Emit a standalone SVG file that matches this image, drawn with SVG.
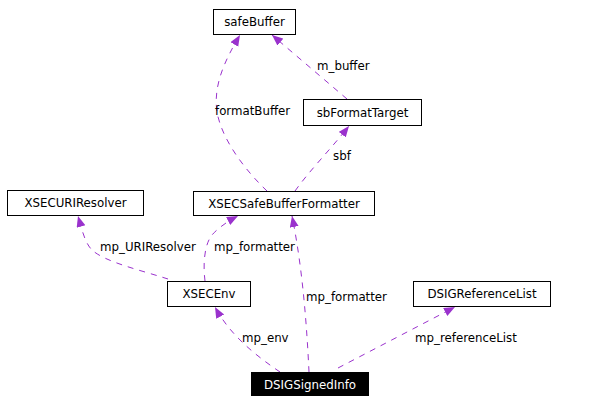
<svg xmlns="http://www.w3.org/2000/svg" width="592" height="404" viewBox="0 0 592 404">
<defs>
<marker id="arr" markerUnits="userSpaceOnUse" markerWidth="12" markerHeight="10" refX="11" refY="4.5" orient="auto">
<path d="M0,0 L11,4.5 L0,9 Z" fill="#9a32cd"/>
</marker>
<style>
.box{fill:#fff;stroke:#000;stroke-width:1}
.t{font-family:"DejaVu Sans",sans-serif;font-size:11.8px;fill:#000}
.c{text-anchor:middle}
.e{fill:none;stroke:#9a32cd;stroke-width:1;stroke-dasharray:6,6;marker-end:url(#arr)}
</style>
</defs>
<rect width="592" height="404" fill="#fff"/>
<g id="edges">
<path class="e" d="M267,191 C245,170 222,140 217,112 C213,85 225,60 240,35"/>
<path class="e" d="M347,99 L272,35"/>
<path class="e" d="M295,191 C310,170 330,150 349,126"/>
<path class="e" d="M168,279 C140,270 105,262 92,250 C85,243 82,230 78,216"/>
<path class="e" d="M205,281 C203,265 204,245 212,235 C218,228 228,221 238,216"/>
<path class="e" d="M309,372 C307,330 303,270 292,216"/>
<path class="e" d="M280,372 C255,355 230,335 215,307"/>
<path class="e" d="M338,368 L455,307"/>
<text class="t" x="215" y="115">formatBuffer</text>
<text class="t" x="317" y="70">m_buffer</text>
<text class="t" x="333" y="160">sbf</text>
<text class="t" x="100" y="251">mp_URIResolver</text>
<text class="t" x="214" y="251">mp_formatter</text>
<text class="t" x="306" y="301">mp_formatter</text>
<text class="t" x="242" y="342">mp_env</text>
<text class="t" x="415" y="342">mp_referenceList</text>
</g>
<g id="safeBuffer"><rect class="box" x="213.5" y="9.5" width="82" height="25"/><text class="t c" x="254.5" y="26">safeBuffer</text></g>
<g id="sbFormatTarget"><rect class="box" x="303.5" y="99.5" width="118" height="26"/><text class="t c" x="362.5" y="117">sbFormatTarget</text></g>
<g id="XSECSafeBufferFormatter"><rect class="box" x="193.5" y="191.5" width="181" height="24"/><text class="t c" x="284" y="207.5">XSECSafeBufferFormatter</text></g>
<g id="XSECURIResolver"><rect class="box" x="7.5" y="190.5" width="136" height="25"/><text class="t c" x="75.5" y="207">XSECURIResolver</text></g>
<g id="XSECEnv"><rect class="box" x="167.5" y="281.5" width="83" height="25"/><text class="t c" x="209" y="298">XSECEnv</text></g>
<g id="DSIGReferenceList"><rect class="box" x="413.5" y="281.5" width="137" height="25"/><text class="t c" x="482" y="298">DSIGReferenceList</text></g>
<g id="DSIGSignedInfo"><rect x="251" y="372" width="118" height="24" fill="#000"/><text class="t c" x="310" y="388.5" style="fill:#fff">DSIGSignedInfo</text></g>
</svg>
